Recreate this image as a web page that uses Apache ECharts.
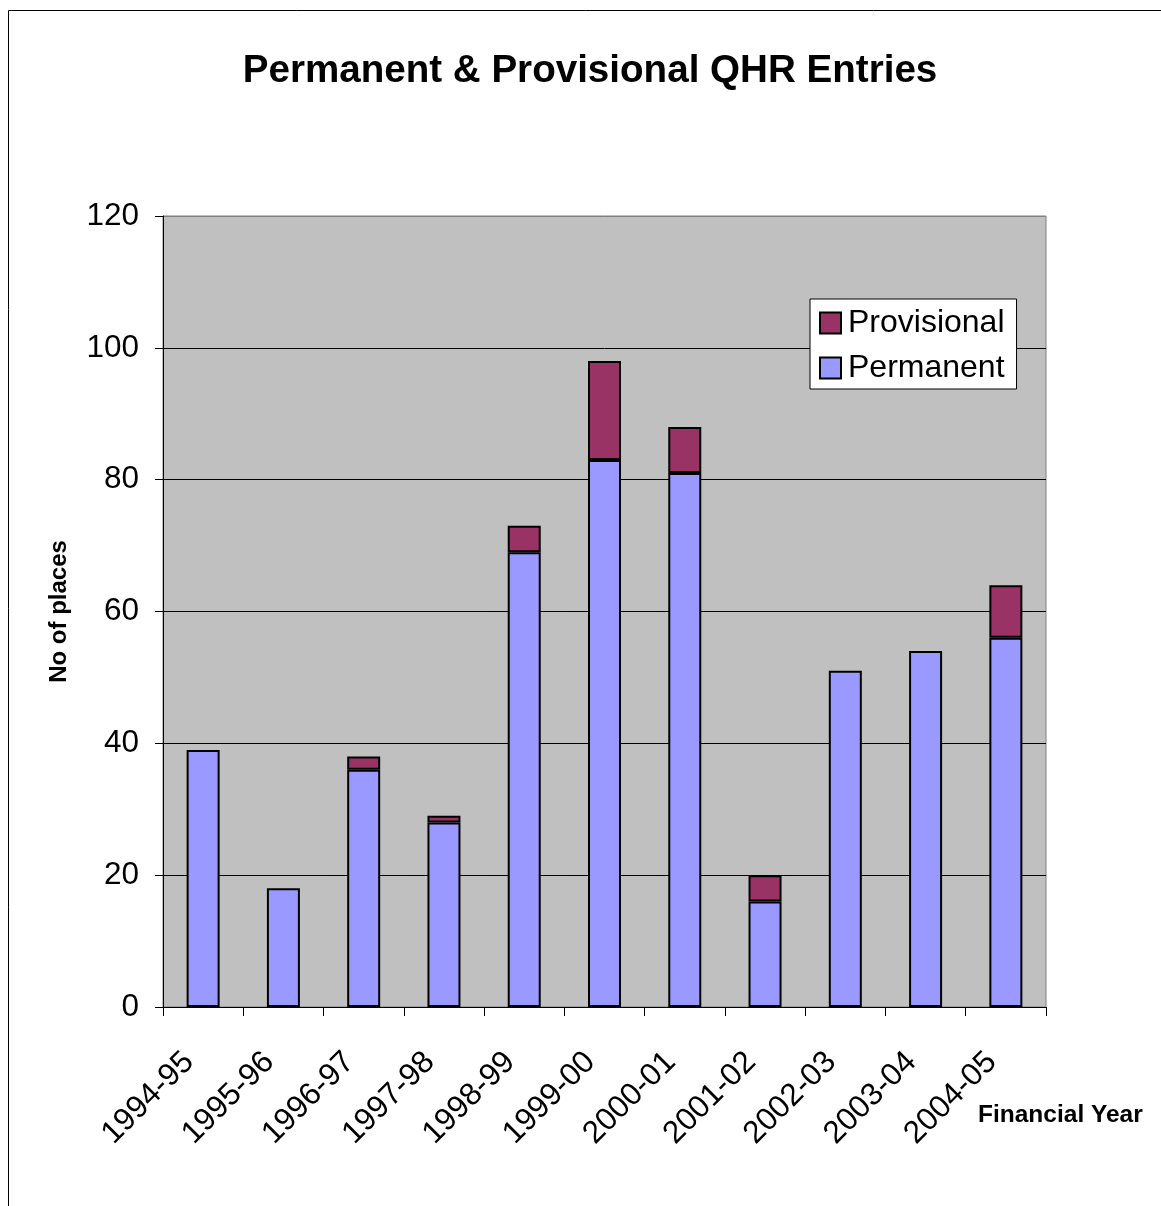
<!DOCTYPE html>
<html>
<head>
<meta charset="utf-8">
<script src="https://cdn.jsdelivr.net/npm/echarts@6/dist/echarts.min.js"></script>
<style>html,body{margin:0;padding:0;background:#fff;}#c{width:1161px;height:1206px;}</style>
</head>
<body>
<div id="c"></div>
<script>
const categories = ['1994-95','1995-96','1996-97','1997-98','1998-99','1999-00','2000-01','2001-02','2002-03','2003-04','2004-05'];
const permanent = [39, 18, 36, 28, 69, 83, 81, 16, 51, 54, 56];
const provisional = [0, 0, 2, 1, 4, 15, 7, 4, 0, 0, 8];
const yTicks = [0, 20, 40, 60, 80, 100, 120];

const chart = echarts.init(document.getElementById('c'), null, {renderer: 'canvas'});
const font = '"Liberation Sans", Arial, sans-serif';
chart.setOption({
  animation: false,
  textStyle: {fontFamily: font},
  graphic: [
    {
      type: 'rect', shape: {x: 8.5, y: 10.5, width: 1300, height: 1400},
      style: {fill: 'none', stroke: '#000', lineWidth: 1}, silent: true, z: -10
    },
    {
      type: 'text', x: 978, y: 1115,
      style: {text: 'Financial Year', fontFamily: font, fontSize: 24.5, fontWeight: 'bold',
        fill: '#000', align: 'left', verticalAlign: 'middle'}
    }
  ],
  title: {
    text: 'Permanent & Provisional QHR Entries',
    left: 585, top: 47, textAlign: 'center',
    textStyle: {fontFamily: font, fontSize: 38.6, fontWeight: 'bold', color: '#000'}
  },
  legend: {
    orient: 'vertical',
    left: 810, top: 299,
    data: ['Provisional', 'Permanent'],
    backgroundColor: '#fff', borderColor: '#000', borderWidth: 1,
    padding: [8, 12, 5, 9],
    itemGap: 13, itemWidth: 21, itemHeight: 21,
    icon: 'rect',
    textStyle: {fontFamily: font, fontSize: 32, lineHeight: 32, color: '#000', padding: [0, 0, 0, 2]}
  },
  grid: {
    left: 163, top: 216, right: 115, bottom: 199,
    show: true, backgroundColor: '#C0C0C0', borderColor: '#808080', borderWidth: 1
  },
  xAxis: {
    type: 'category',
    data: categories,
    axisLine: {lineStyle: {color: '#000', width: 1}},
    axisTick: {show: true, length: 9, lineStyle: {color: '#000'}},
    axisLabel: {rotate: 45, fontSize: 31.5, color: '#000', margin: 36, fontFamily: font,
      padding: [0, 20, 0, 0]},
    splitLine: {show: false}
  },
  yAxis: {
    type: 'value',
    min: 0, max: 120, interval: 20,
    name: 'No of places',
    nameLocation: 'middle',
    nameGap: 92,
    nameRotate: 90,
    nameTextStyle: {fontFamily: font, fontSize: 24, fontWeight: 'bold', color: '#000'},
    axisLine: {show: true, lineStyle: {color: '#000', width: 1}},
    axisTick: {show: true, length: 8, lineStyle: {color: '#000'}},
    axisLabel: {fontSize: 31.5, color: '#000', margin: 24, fontFamily: font,
      formatter: v => yTicks.includes(v) ? String(v) : ''},
    splitLine: {show: true, lineStyle: {color: ['#000', '#000', '#000', '#000', '#000', '#000', '#808080'], width: 1}}
  },
  series: [
    {
      name: 'Permanent', type: 'bar', stack: 'total', data: permanent,
      barWidth: 33,
      itemStyle: {color: '#9999FF', borderColor: '#000', borderWidth: 2}
    },
    {
      name: 'Provisional', type: 'bar', stack: 'total',
      data: provisional.map(v => v === 0 ? null : v),
      barWidth: 33,
      itemStyle: {color: '#993366', borderColor: '#000', borderWidth: 2}
    }
  ]
});
</script>
</body>
</html>
